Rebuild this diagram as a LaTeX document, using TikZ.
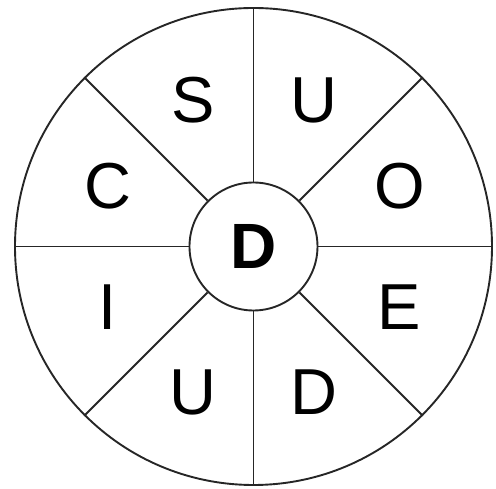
\documentclass[tikz,border=0pt]{standalone}
\usepackage{fontspec}
\setmainfont{Liberation Sans}
\usepackage{tikz}

\begin{document}
\begin{tikzpicture}[x=1pt, y=1pt, line width=1.9pt, draw=black!85,
  letter/.style={font=\fontsize{65}{65}\selectfont, inner sep=0pt}]
  \useasboundingbox (-253.5,-242.5) rectangle (242.5,246.5);

  % Outer wheel and inner hub
  \node[draw, circle, minimum size=477pt, inner sep=0pt] (rim) at (0,0) {};
  \node[draw, circle, minimum size=128pt, inner sep=0pt,
        font=\fontsize{64}{64}\selectfont\bfseries] (hub) at (0,0) {D};

  % Spokes between the hub and the rim
  \foreach \a in {0,45,...,315}
    \draw (hub.\a) -- (rim.\a);

  % Letters in the middle of each sector
  \foreach \a/\t [count=\i] in {22.5/O, 67.5/U, 112.5/S, 157.5/C,
                                202.5/I, 247.5/U, 292.5/D, 337.5/E}
    \node[letter] (l\i) at (\a:158) {\t};
\end{tikzpicture}
\end{document}
